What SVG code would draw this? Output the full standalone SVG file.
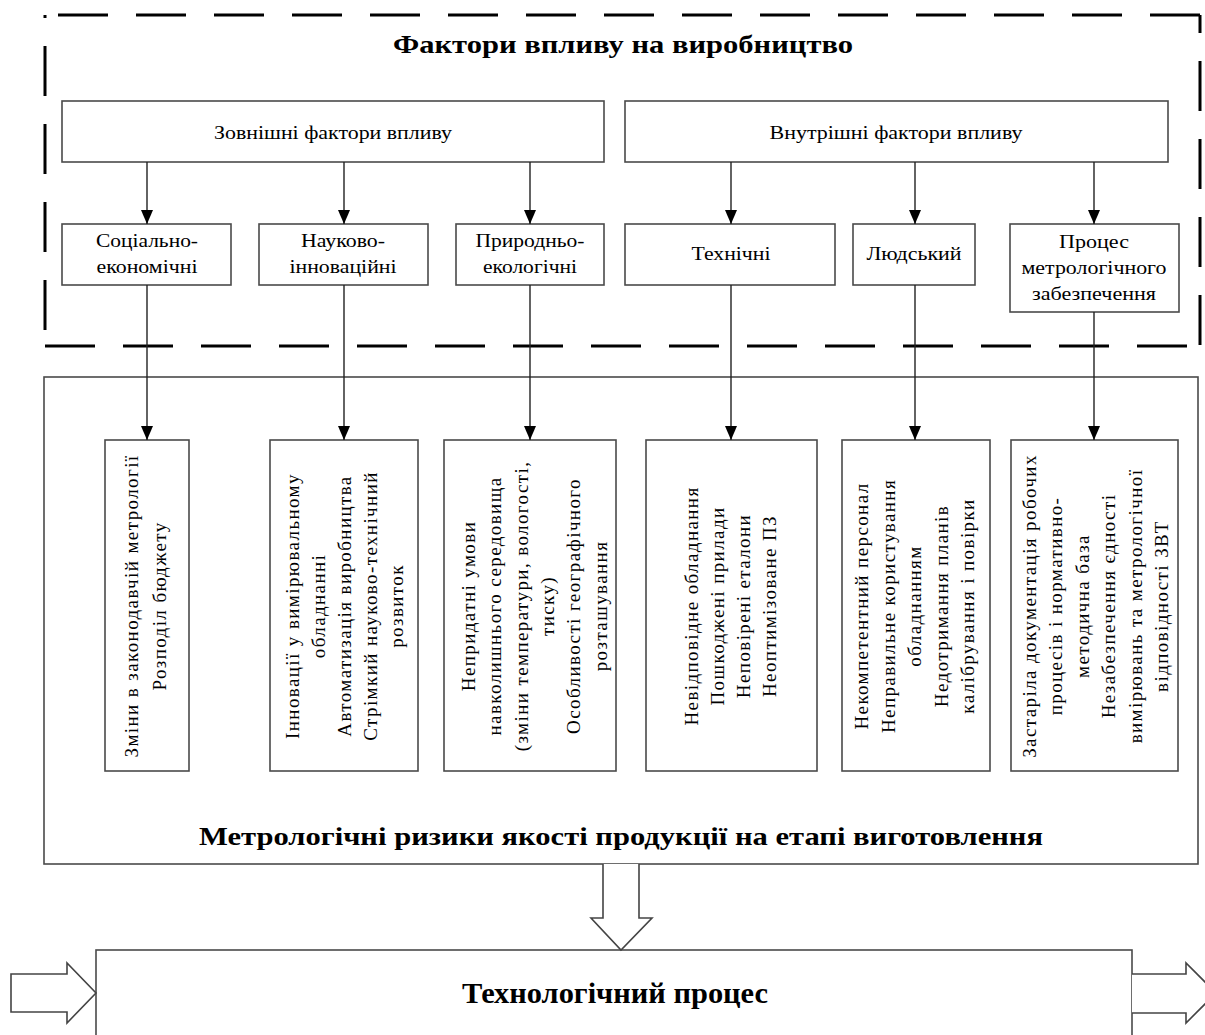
<svg xmlns="http://www.w3.org/2000/svg" width="1205" height="1035" viewBox="0 0 1205 1035">
<defs>
<marker id="ah" markerUnits="userSpaceOnUse" markerWidth="14" markerHeight="12" viewBox="0 0 14 12" refX="14" refY="6" orient="auto">
<path d="M0,0 L14,6 L0,12 z" fill="#000"/>
</marker>
<style>
.box{fill:#fff;stroke:#4a4a4a;stroke-width:1.6}
.t{font-family:"Liberation Serif","Times New Roman",serif;font-size:18px;fill:#000;text-anchor:middle}
.b{font-family:"Liberation Serif","Times New Roman",serif;font-weight:bold;fill:#000;text-anchor:middle}
.v{font-family:"Liberation Serif","Times New Roman",serif;font-size:19px;letter-spacing:1.4px;fill:#000;text-anchor:middle}
.dash{fill:none;stroke:#000;stroke-width:3;stroke-dasharray:50 28}
.c{fill:none;stroke:#222;stroke-width:1.4}
.hollow{fill:#fff;stroke:#444;stroke-width:1.6}
</style>
</defs>
<rect width="1205" height="1035" fill="#fff"/>

<g id="outer-frame">
<line class="dash" x1="1200" y1="15" x2="45" y2="15"/>
<line class="dash" x1="1200" y1="15" x2="1200" y2="346" stroke-dashoffset="32"/>
<line class="dash" x1="45" y1="346" x2="1200" y2="346"/>
<line class="dash" x1="45" y1="346" x2="45" y2="15" stroke-dashoffset="62"/>
<text class="b" x="623" y="53" font-size="26" textLength="460" lengthAdjust="spacingAndGlyphs">Фактори впливу на виробництво</text>
</g>

<g id="risk-frame">
<rect class="box" x="44" y="377" width="1154" height="487"/>
<text class="b" x="621" y="845" font-size="26" textLength="844" lengthAdjust="spacingAndGlyphs">Метрологічні ризики якості продукції на етапі виготовлення</text>
</g>

<g id="external">
<rect class="box" x="62" y="101" width="542" height="61"/>
<text class="t" x="333" y="139" textLength="238" lengthAdjust="spacingAndGlyphs">Зовнішні фактори впливу</text>
</g>
<g id="internal">
<rect class="box" x="625" y="101" width="543" height="61"/>
<text class="t" x="896" y="139" textLength="253" lengthAdjust="spacingAndGlyphs">Внутрішні фактори впливу</text>
</g>

<g id="social">
<rect class="box" x="62" y="224" width="169" height="61"/>
<text class="t" x="147" y="247" textLength="102" lengthAdjust="spacingAndGlyphs">Соціально-</text>
<text class="t" x="147" y="273" textLength="101" lengthAdjust="spacingAndGlyphs">економічні</text>
</g>
<g id="science">
<rect class="box" x="259" y="224" width="169" height="61"/>
<text class="t" x="343" y="247" textLength="84" lengthAdjust="spacingAndGlyphs">Науково-</text>
<text class="t" x="343" y="273" textLength="107" lengthAdjust="spacingAndGlyphs">інноваційні</text>
</g>
<g id="nature">
<rect class="box" x="456" y="224" width="148" height="61"/>
<text class="t" x="530" y="247" textLength="109" lengthAdjust="spacingAndGlyphs">Природньо-</text>
<text class="t" x="530" y="273" textLength="94" lengthAdjust="spacingAndGlyphs">екологічні</text>
</g>
<g id="technical">
<rect class="box" x="625" y="224" width="210" height="61"/>
<text class="t" x="731" y="260" textLength="79" lengthAdjust="spacingAndGlyphs">Технічні</text>
</g>
<g id="human">
<rect class="box" x="853" y="224" width="122" height="61"/>
<text class="t" x="914" y="260" textLength="95" lengthAdjust="spacingAndGlyphs">Людський</text>
</g>
<g id="metrology">
<rect class="box" x="1010" y="224" width="169" height="88"/>
<text class="t" x="1094" y="248" textLength="70" lengthAdjust="spacingAndGlyphs">Процес</text>
<text class="t" x="1094" y="274" textLength="145" lengthAdjust="spacingAndGlyphs">метрологічного</text>
<text class="t" x="1094" y="300" textLength="124" lengthAdjust="spacingAndGlyphs">забезпечення</text>
</g>

<g id="risk-social">
<rect class="box" x="105" y="440" width="84" height="331"/>
<text class="v" transform="translate(138,606) rotate(-90)"><tspan x="0" y="0">Зміни в законодавчій метрології</tspan><tspan x="0" y="28">Розподіл бюджету</tspan></text>
</g>
<g id="risk-science">
<rect class="box" x="270" y="440" width="148" height="331"/>
<text class="v" transform="translate(299,606) rotate(-90)"><tspan x="0" y="0">Інновації у вимірювальному</tspan><tspan x="0" y="26">обладнанні</tspan><tspan x="0" y="52">Автоматизація виробництва</tspan><tspan x="0" y="78">Стрімкий науково-технічний</tspan><tspan x="0" y="104">розвиток</tspan></text>
</g>
<g id="risk-nature">
<rect class="box" x="444" y="440" width="172" height="331"/>
<text class="v" transform="translate(475,606) rotate(-90)"><tspan x="0" y="0">Непридатні умови</tspan><tspan x="0" y="26.3">навколишнього середовища</tspan><tspan x="0" y="52.6">(зміни температури, вологості,</tspan><tspan x="0" y="78.9">тиску)</tspan><tspan x="0" y="105.2">Особливості географічного</tspan><tspan x="0" y="131.5">розташування</tspan></text>
</g>
<g id="risk-technical">
<rect class="box" x="646" y="440" width="171" height="331"/>
<text class="v" transform="translate(698,606) rotate(-90)"><tspan x="0" y="0">Невідповідне обладнання</tspan><tspan x="0" y="26">Пошкоджені прилади</tspan><tspan x="0" y="52">Неповірені еталони</tspan><tspan x="0" y="78">Неоптимізоване ПЗ</tspan></text>
</g>
<g id="risk-human">
<rect class="box" x="842" y="440" width="148" height="331"/>
<text class="v" transform="translate(868,606) rotate(-90)"><tspan x="0" y="0">Некомпетентний персонал</tspan><tspan x="0" y="26.5">Неправильне користування</tspan><tspan x="0" y="53">обладнанням</tspan><tspan x="0" y="79.5">Недотримання планів</tspan><tspan x="0" y="106">калібрування і повірки</tspan></text>
</g>
<g id="risk-metrology">
<rect class="box" x="1011" y="440" width="167" height="331"/>
<text class="v" transform="translate(1036,606) rotate(-90)"><tspan x="0" y="0">Застаріла документація робочих</tspan><tspan x="0" y="26.4">процесів і нормативно-</tspan><tspan x="0" y="52.8">методична база</tspan><tspan x="0" y="79.2">Незабезпечення єдності</tspan><tspan x="0" y="105.6">вимірювань та метрологічної</tspan><tspan x="0" y="132">відповідності ЗВТ</tspan></text>
</g>

<g id="process">
<rect class="box" x="96" y="950" width="1036" height="100"/>
<text class="b" x="615" y="1003" font-size="29" textLength="306" lengthAdjust="spacingAndGlyphs">Технологічний процес</text>
</g>

<g id="connectors">
<line class="c" x1="147" y1="162" x2="147" y2="224" marker-end="url(#ah)"/>
<line class="c" x1="344" y1="162" x2="344" y2="224" marker-end="url(#ah)"/>
<line class="c" x1="530" y1="162" x2="530" y2="224" marker-end="url(#ah)"/>
<line class="c" x1="731" y1="162" x2="731" y2="224" marker-end="url(#ah)"/>
<line class="c" x1="915" y1="162" x2="915" y2="224" marker-end="url(#ah)"/>
<line class="c" x1="1094" y1="162" x2="1094" y2="224" marker-end="url(#ah)"/>
<line class="c" x1="147" y1="285" x2="147" y2="440" marker-end="url(#ah)"/>
<line class="c" x1="344" y1="285" x2="344" y2="440" marker-end="url(#ah)"/>
<line class="c" x1="530" y1="285" x2="530" y2="440" marker-end="url(#ah)"/>
<line class="c" x1="731" y1="285" x2="731" y2="440" marker-end="url(#ah)"/>
<line class="c" x1="915" y1="285" x2="915" y2="440" marker-end="url(#ah)"/>
<line class="c" x1="1094" y1="312" x2="1094" y2="440" marker-end="url(#ah)"/>
<path class="hollow" d="M603,864 L603,918 L591,918 L621,950 L652,918 L639,918 L639,864"/>
<path class="hollow" d="M11,974 L67,974 L67,963 L96,993 L67,1023 L67,1012 L11,1012 z"/>
<path class="hollow" d="M1132,974 L1186,974 L1186,963 L1216,993 L1186,1023 L1186,1013 L1132,1013"/>
</g>
</svg>
